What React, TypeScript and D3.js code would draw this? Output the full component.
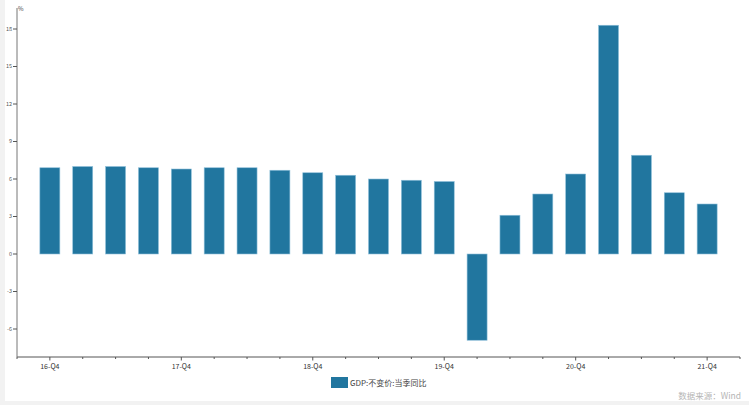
import { useEffect, useRef } from 'react';
import * as d3 from 'd3';

const categories = [
  '16-Q4', '17-Q1', '17-Q2', '17-Q3', '17-Q4',
  '18-Q1', '18-Q2', '18-Q3', '18-Q4',
  '19-Q1', '19-Q2', '19-Q3', '19-Q4',
  '20-Q1', '20-Q2', '20-Q3', '20-Q4',
  '21-Q1', '21-Q2', '21-Q3', '21-Q4',
];
const gdpValues = [
  6.9, 7.0, 7.0, 6.9, 6.8,
  6.9, 6.9, 6.7, 6.5,
  6.3, 6.0, 5.9, 5.8,
  -6.9, 3.1, 4.8, 6.4,
  18.3, 7.9, 4.9, 4.0,
];
const labeledTicks = ['16-Q4', '17-Q4', '18-Q4', '19-Q4', '20-Q4', '21-Q4'];
const yTickValues = [-6, -3, 0, 3, 6, 9, 12, 15, 18];
const seriesName = 'GDP:不变价:当季同比';
const sourceText = '数据来源：Wind';

export default function App() {
  const ref = useRef<SVGSVGElement>(null);

  useEffect(() => {
    if (!ref.current) return;
    const svg = d3.select(ref.current);
    svg.selectAll('*').remove();

    const width = 749;
    const height = 405;
    const font = "'Noto Sans CJK SC', 'Noto Sans', sans-serif";
    const barColor = '#21769f';

    // background: grey frame, white plot panel
    svg.append('rect').attr('width', width).attr('height', height).attr('fill', '#f2f2f2');
    svg.append('rect').attr('x', 5).attr('y', 0).attr('width', width - 5).attr('height', 401).attr('fill', '#ffffff');

    const left = 17;
    const right = 740;
    const top = 8;
    const bottom = 357;

    const x = d3.scalePoint<string>().domain(categories).range([left, right]).padding(1);
    const y = d3.scaleLinear().domain([-8.24, 19.68]).range([bottom, top]);

    const g = svg.append('g');

    // bars
    const barW = 20;
    g.selectAll('rect.bar')
      .data(gdpValues)
      .join('rect')
      .attr('class', 'bar')
      .attr('x', (_, i) => x(categories[i])! - barW / 2)
      .attr('y', (d) => y(Math.max(0, d)))
      .attr('width', barW)
      .attr('height', (d) => Math.abs(y(d) - y(0)))
      .attr('fill', barColor)
      .attr('stroke', '#8fc0da')
      .attr('stroke-width', 0.6);

    // x axis
    const xAxis = g.append('g').attr('transform', `translate(0,${bottom})`);
    xAxis.append('line')
      .attr('x1', left).attr('x2', right)
      .attr('stroke', '#555').attr('stroke-width', 1);
    const tickPos = [left, ...categories.map((c) => x(c)!), right];
    xAxis.selectAll('line.tick')
      .data(tickPos)
      .join('line')
      .attr('class', 'tick')
      .attr('x1', (d) => d).attr('x2', (d) => d)
      .attr('y1', 0)
      .attr('y2', (d) => (labeledTicks.some((c) => x(c) === d) ? 3.5 : 2))
      .attr('stroke', '#555').attr('stroke-width', 1);
    xAxis.selectAll('text')
      .data(labeledTicks)
      .join('text')
      .attr('x', (d) => x(d)!)
      .attr('y', 12)
      .attr('text-anchor', 'middle')
      .attr('font-family', font)
      .attr('font-size', 7)
      .attr('fill', '#333')
      .text((d) => d);

    // y axis
    const yAxis = g.append('g').attr('transform', `translate(${left},0)`);
    yAxis.append('line')
      .attr('y1', top).attr('y2', bottom)
      .attr('stroke', '#777').attr('stroke-width', 1);
    yAxis.selectAll('line.tick')
      .data(yTickValues)
      .join('line')
      .attr('class', 'tick')
      .attr('x1', -4).attr('x2', 0)
      .attr('y1', (d) => y(d)).attr('y2', (d) => y(d))
      .attr('stroke', '#555').attr('stroke-width', 1);
    yAxis.selectAll('text')
      .data(yTickValues)
      .join('text')
      .attr('x', -5)
      .attr('y', (d) => y(d))
      .attr('dy', '0.35em')
      .attr('text-anchor', 'end')
      .attr('font-family', font)
      .attr('font-size', 5.5)
      .attr('fill', '#555')
      .text((d) => d);
    yAxis.append('text')
      .attr('x', 1)
      .attr('y', 11)
      .attr('font-family', font)
      .attr('font-size', 6)
      .attr('fill', '#444')
      .text('%');

    // legend
    svg.append('rect')
      .attr('x', 331).attr('y', 377)
      .attr('width', 17).attr('height', 11)
      .attr('fill', barColor);
    svg.append('text')
      .attr('x', 350).attr('y', 383)
      .attr('dy', '0.35em')
      .attr('font-family', font)
      .attr('font-size', 8)
      .attr('fill', '#444')
      .text(seriesName);

    // source note
    svg.append('text')
      .attr('x', 741).attr('y', 396)
      .attr('dy', '0.35em')
      .attr('text-anchor', 'end')
      .attr('font-family', font)
      .attr('font-size', 8.5)
      .attr('fill', '#b5b5b5')
      .text(sourceText);
  }, []);

  return (
    <svg
      ref={ref}
      width={749}
      height={405}
      style={{ position: 'absolute', left: 0, top: 0, display: 'block' }}
    />
  );
}
